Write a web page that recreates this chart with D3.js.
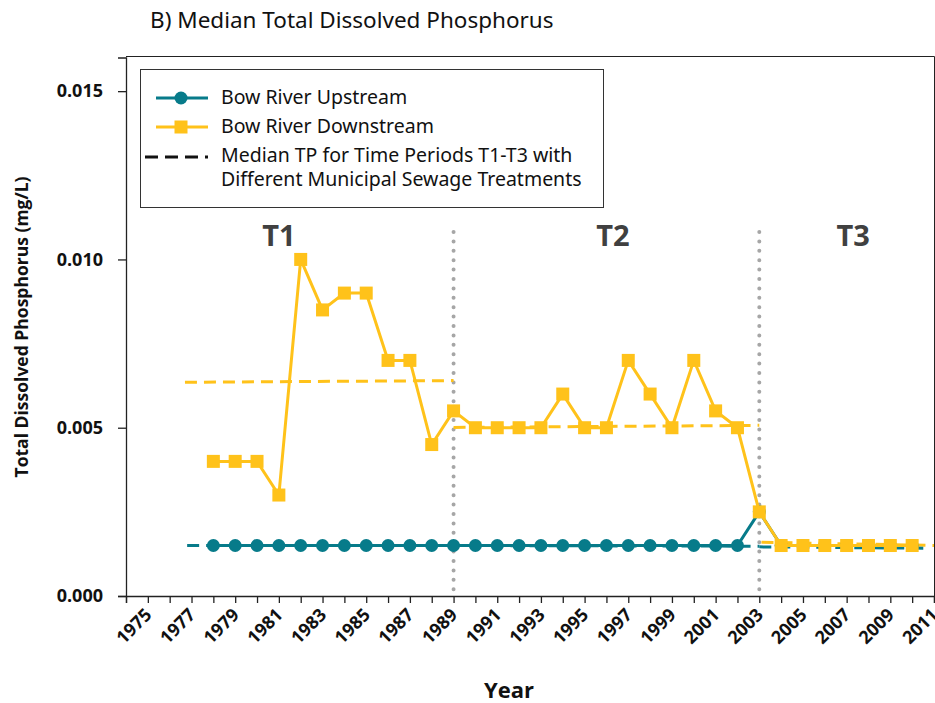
<!DOCTYPE html>
<html>
<head>
<meta charset="utf-8">
<style>
  body { margin: 0; background: #fff; }
  text { font-family: "Noto Sans", "DejaVu Sans", sans-serif; }
</style>
</head>
<body>
<svg id="chart" width="935" height="703"></svg>
<script src="https://d3js.org/d3.v7.min.js"></script>
<script>
// years of the two series
const years = d3.range(1978, 2011);
const upstream = [
  0.0015, 0.0015, 0.0015, 0.0015, 0.0015, 0.0015, 0.0015, 0.0015, 0.0015, 0.0015,
  0.0015, 0.0015, 0.0015, 0.0015, 0.0015, 0.0015, 0.0015, 0.0015, 0.0015, 0.0015,
  0.0015, 0.0015, 0.0015, 0.0015, 0.0015, 0.0025, 0.0015, 0.0015, 0.0015, 0.0015,
  0.0015, 0.0015, 0.0015
];
const downstream = [
  0.004, 0.004, 0.004, 0.003, 0.010, 0.0085, 0.009, 0.009, 0.007, 0.007,
  0.0045, 0.0055, 0.005, 0.005, 0.005, 0.005, 0.006, 0.005, 0.005, 0.007,
  0.006, 0.005, 0.007, 0.0055, 0.005, 0.0025, 0.0015, 0.0015, 0.0015, 0.0015,
  0.0015, 0.0015, 0.0015
];
// median segments per period: [x0, x1, y0, y1]
const downMedians = [[1976.7, 1989, 0.00635, 0.0064], [1989, 2003, 0.00501, 0.00507], [2003.1, 2011, 0.0016, 0.0015]];
const upMedians = [[1976.8, 1989, 0.0015, 0.0015], [1989, 2003, 0.0015, 0.00148], [2003, 2010.6, 0.00146, 0.00142]];
const periodBreaks = [1989, 2003];
const periodLabels = ["T1", "T2", "T3"];
const periodLabelYears = [1981, 1996.3, 2007.3];
const yTicks = [0, 0.005, 0.010, 0.015];
const xTicks = d3.range(1975, 2012, 2);

const teal = "#077b8a", gold = "#ffc21a";
const svg = d3.select("#chart");
const x = d3.scaleLinear().domain([1974, 2011]).range([126, 934]);
const y = d3.scaleLinear().domain([0, 0.016]).range([596, 57.5]);
const bold = "'Open Sans', sans-serif";

// title
svg.append("text").attr("x", 150).attr("y", 28).style("font-size", "22.5px").attr("fill", "#111")
  .text("B) Median Total Dissolved Phosphorus");

// plot border top/right
svg.append("path").attr("d", `M126,56.5H934.5V596`).attr("fill", "none").attr("stroke", "#222").attr("stroke-width", 1);

// y axis
const yAxis = svg.append("g").attr("transform", "translate(126,0)")
  .call(d3.axisLeft(y).tickValues(yTicks).tickFormat(d3.format(".3f")).tickSize(8).tickPadding(15));
yAxis.select(".domain").attr("stroke", "#222").attr("stroke-width", 1.3);
yAxis.selectAll("line").attr("stroke", "#222").attr("stroke-width", 1.3);
yAxis.selectAll("text").style("font-size", "18px").style("font-weight", "bold").attr("fill", "#111")
  .style("font-family", bold);

// x axis
const xAxis = svg.append("g").attr("transform", "translate(0,596)")
  .call(d3.axisBottom(x).tickValues(d3.range(1974, 2012)).tickSize(7).tickFormat(""));
xAxis.select(".domain").attr("stroke", "#222").attr("stroke-width", 1.3);
xAxis.selectAll("line").attr("stroke", "#222").attr("stroke-width", 1.3);
svg.append("g").selectAll("text").data(xTicks).join("text")
  .attr("transform", d => `translate(${x(d) + 5},${616}) rotate(-45)`)
  .attr("text-anchor", "end")
  .style("font-size", "18px").style("font-weight", "bold").attr("fill", "#111")
  .style("font-family", bold)
  .text(d => d);

// axis titles
svg.append("text").attr("transform", "translate(28,327) rotate(-90)").attr("text-anchor", "middle")
  .style("font-size", "17.5px").style("font-weight", "bold").attr("fill", "#111")
  .style("font-family", bold)
  .text("Total Dissolved Phosphorus (mg/L)");
svg.append("text").attr("x", 509).attr("y", 698).attr("text-anchor", "middle")
  .style("font-size", "22px").style("font-weight", "bold").attr("fill", "#111")
  .style("font-family", bold)
  .text("Year");

// period separators
svg.append("g").selectAll("line").data(periodBreaks).join("line")
  .attr("x1", d => x(d)).attr("x2", d => x(d)).attr("y1", 232).attr("y2", 596)
  .attr("stroke", "#a6a6a6").attr("stroke-width", 4).attr("stroke-linecap", "round")
  .attr("stroke-dasharray", "0 9.4");

svg.append("g").selectAll("text").data(periodLabels).join("text")
  .attr("x", (d, i) => x(periodLabelYears[i])).attr("y", 246).attr("text-anchor", "middle")
  .style("font-size", "29px").style("font-weight", "bold").attr("fill", "#404040")
  .style("font-family", bold)
  .text(d => d);

// median dashed segments
function medians(data, color) {
  svg.append("g").selectAll("line").data(data).join("line")
    .attr("x1", d => x(d[0])).attr("x2", d => x(d[1]))
    .attr("y1", d => y(d[2])).attr("y2", d => y(d[3]))
    .attr("stroke", color).attr("stroke-width", 3).attr("stroke-dasharray", "12 7");
}
medians(downMedians, gold);
medians(upMedians, teal);

const line = d3.line().x(d => x(d[0])).y(d => y(d[1]));
const upPts = years.map((yr, i) => [yr, upstream[i]]);
const downPts = years.map((yr, i) => [yr, downstream[i]]);

svg.append("path").datum(upPts).attr("d", line).attr("fill", "none").attr("stroke", teal).attr("stroke-width", 3);
svg.append("g").selectAll("circle").data(upPts).join("circle")
  .attr("cx", d => x(d[0])).attr("cy", d => y(d[1])).attr("r", 6.5).attr("fill", teal);

svg.append("path").datum(downPts).attr("d", line).attr("fill", "none").attr("stroke", gold).attr("stroke-width", 3);
svg.append("g").selectAll("rect").data(downPts).join("rect")
  .attr("x", d => x(d[0]) - 6.5).attr("y", d => y(d[1]) - 6.5).attr("width", 13).attr("height", 13).attr("fill", gold);

// legend
const lg = svg.append("g");
lg.append("rect").attr("x", 140.5).attr("y", 69.5).attr("width", 463).attr("height", 138)
  .attr("fill", "#fff").attr("stroke", "#333").attr("stroke-width", 1);
lg.append("line").attr("x1", 156).attr("x2", 208).attr("y1", 98).attr("y2", 98).attr("stroke", teal).attr("stroke-width", 3);
lg.append("circle").attr("cx", 181).attr("cy", 98).attr("r", 6.5).attr("fill", teal);
lg.append("line").attr("x1", 156).attr("x2", 208).attr("y1", 127).attr("y2", 127).attr("stroke", gold).attr("stroke-width", 3);
lg.append("rect").attr("x", 174.5).attr("y", 120.5).attr("width", 13).attr("height", 13).attr("fill", gold);
lg.append("line").attr("x1", 145).attr("x2", 208).attr("y1", 157).attr("y2", 157).attr("stroke", "#111")
  .attr("stroke-width", 3).attr("stroke-dasharray", "13 7");
const legendText = ["Bow River Upstream", "Bow River Downstream", "Median TP for Time Periods T1-T3 with", "Different Municipal Sewage Treatments"];
const legendY = [104, 133, 162, 186];
lg.selectAll("text.lt").data(legendText).join("text").attr("class", "lt")
  .attr("x", 221).attr("y", (d, i) => legendY[i]).style("font-size", "19.5px").attr("fill", "#111")
  .text(d => d);
</script>
</body>
</html>
